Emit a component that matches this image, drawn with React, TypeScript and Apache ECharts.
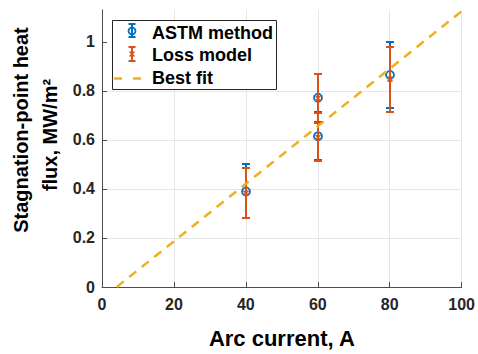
import React, { useEffect, useRef } from "react";
import * as echarts from "echarts";

// Arc current (A), stagnation-point heat flux (MW/m²) and half-width of the error bar
const astmX = [40, 60, 60, 80];
const astmY = [0.39, 0.772, 0.615, 0.865];
const astmErr = [0.11, 0.098, 0.097, 0.135];

const lossX = [40, 60, 60, 80];
const lossY = [0.383, 0.77, 0.61, 0.848];
const lossErr = [0.103, 0.1, 0.098, 0.133];

// End points of the linear best fit
const fitX = [4.1, 100];
const fitY = [0, 1.125];

const xTicks = [0, 20, 40, 60, 80, 100];
const yTicks = [0, 0.2, 0.4, 0.6, 0.8, 1];

const BLUE = "#0072BD";
const ORANGE = "#D95319";
const YELLOW = "#EDB120";
const AXIS = "#262626";
const FONT = "'Liberation Sans', Arial, Helvetica, sans-serif";

function errorBarSeries(name: string, xs: number[], ys: number[], es: number[], color: string, marker: "circle" | "cross", z: number) {
  return {
    name,
    type: "custom",
    clip: false,
    z,
    encode: { x: 0, y: 1 },
    data: xs.map((x, i) => [x, ys[i], es[i]]),
    renderItem: (_params: any, api: any) => {
      const x = api.value(0);
      const y = api.value(1);
      const e = api.value(2);
      const top = api.coord([x, y + e]);
      const bot = api.coord([x, y - e]);
      const mid = api.coord([x, y]);
      // snap to whole pixels so overlapping bars cover each other cleanly
      const cx = Math.round(mid[0]);
      const ty = Math.round(top[1]);
      const by = Math.round(bot[1]);
      const cap = 4;
      const lineStyle = { stroke: color, lineWidth: 2 };
      const children: any[] = [
        { type: "line", z2: z, shape: { x1: cx, y1: ty, x2: cx, y2: by }, style: lineStyle },
        { type: "line", z2: z, shape: { x1: cx - cap, y1: ty, x2: cx + cap, y2: ty }, style: lineStyle },
        { type: "line", z2: z, shape: { x1: cx - cap, y1: by, x2: cx + cap, y2: by }, style: lineStyle },
      ];
      if (marker === "circle") {
        children.push({
          type: "circle",
          z2: z,
          shape: { cx, cy: mid[1], r: 4 },
          style: { fill: "none", stroke: color, lineWidth: 1.8 },
        });
      } else {
        const m = 2.5;
        children.push(
          { type: "line", z2: z, shape: { x1: cx - m, y1: mid[1] - m, x2: cx + m, y2: mid[1] + m }, style: { stroke: color, lineWidth: 1.5 } },
          { type: "line", z2: z, shape: { x1: cx - m, y1: mid[1] + m, x2: cx + m, y2: mid[1] - m }, style: { stroke: color, lineWidth: 1.5 } }
        );
      }
      return { type: "group", children };
    },
  };
}

export default function App() {
  const ref = useRef<HTMLDivElement>(null);

  useEffect(() => {
    if (!ref.current) return;
    const chart = echarts.init(ref.current, undefined, { renderer: "svg" });

    const legendX = 132;
    const legend = [
      { type: "rect", shape: { x: 112.5, y: 20.5, width: 164, height: 69 }, style: { fill: "#fff", stroke: AXIS, lineWidth: 1 }, z: 50 },
      // ASTM method icon
      { type: "line", shape: { x1: legendX, y1: 24, x2: legendX, y2: 37 }, style: { stroke: BLUE, lineWidth: 2 }, z: 51 },
      { type: "line", shape: { x1: legendX - 3.5, y1: 24, x2: legendX + 3.5, y2: 24 }, style: { stroke: BLUE, lineWidth: 2 }, z: 51 },
      { type: "line", shape: { x1: legendX - 3.5, y1: 37, x2: legendX + 3.5, y2: 37 }, style: { stroke: BLUE, lineWidth: 2 }, z: 51 },
      { type: "circle", shape: { cx: legendX, cy: 31, r: 3.5 }, style: { fill: "none", stroke: BLUE, lineWidth: 1.8 }, z: 51 },
      { type: "text", x: 152, y: 33, style: { text: "ASTM method", font: `bold 18px ${FONT}`, fill: "#000", textVerticalAlign: "middle" }, z: 51 },
      // Loss model icon
      { type: "line", shape: { x1: legendX, y1: 47, x2: legendX, y2: 61 }, style: { stroke: ORANGE, lineWidth: 2 }, z: 51 },
      { type: "line", shape: { x1: legendX - 3.5, y1: 47, x2: legendX + 3.5, y2: 47 }, style: { stroke: ORANGE, lineWidth: 2 }, z: 51 },
      { type: "line", shape: { x1: legendX - 3.5, y1: 61, x2: legendX + 3.5, y2: 61 }, style: { stroke: ORANGE, lineWidth: 2 }, z: 51 },
      { type: "line", shape: { x1: legendX - 2.5, y1: 51.5, x2: legendX + 2.5, y2: 56.5 }, style: { stroke: ORANGE, lineWidth: 1.5 }, z: 51 },
      { type: "line", shape: { x1: legendX - 2.5, y1: 56.5, x2: legendX + 2.5, y2: 51.5 }, style: { stroke: ORANGE, lineWidth: 1.5 }, z: 51 },
      { type: "text", x: 152, y: 55, style: { text: "Loss model", font: `bold 18px ${FONT}`, fill: "#000", textVerticalAlign: "middle" }, z: 51 },
      // Best fit icon
      { type: "line", shape: { x1: 114, y1: 78.5, x2: 141, y2: 78.5 }, style: { stroke: YELLOW, lineWidth: 2.5, lineDash: [8, 11] }, z: 51 },
      { type: "text", x: 152, y: 78, style: { text: "Best fit", font: `bold 18px ${FONT}`, fill: "#000", textVerticalAlign: "middle" }, z: 51 },
      // y-axis title, two lines
      { type: "text", x: 21, y: 130, rotation: Math.PI / 2, style: { text: "Stagnation-point heat", font: `bold 20px ${FONT}`, fill: "#000", textAlign: "center", textVerticalAlign: "middle" } },
      { type: "text", x: 50, y: 135, rotation: Math.PI / 2, style: { text: "flux, MW/m²", font: `bold 20px ${FONT}`, fill: "#000", textAlign: "center", textVerticalAlign: "middle" } },
    ];

    chart.setOption({
      animation: false,
      backgroundColor: "#fff",
      grid: { left: 102, right: 15, top: 10, bottom: 62, containLabel: false },
      xAxis: {
        type: "value",
        min: 0,
        max: 100,
        interval: 20,
        name: "Arc current, A",
        nameLocation: "middle",
        nameGap: 40,
        nameTextStyle: { fontFamily: FONT, fontWeight: "bold", fontSize: 22, color: "#000" },
        axisLine: { show: true, onZero: false, lineStyle: { color: "#4d4d4d", width: 1 } },
        axisTick: { show: true, inside: true, length: 5, lineStyle: { color: "#4d4d4d" }, customValues: xTicks },
        axisLabel: { margin: 9, fontFamily: FONT, fontWeight: "bold", fontSize: 16, color: AXIS, customValues: xTicks },
        splitLine: { show: true, lineStyle: { color: "#e6e6e6", width: 1 } },
      },
      yAxis: {
        type: "value",
        min: 0,
        max: 1.13,
        interval: 0.2,
        axisLine: { show: true, onZero: false, lineStyle: { color: "#4d4d4d", width: 1 } },
        axisTick: { show: true, inside: true, length: 5, lineStyle: { color: "#4d4d4d" }, customValues: yTicks },
        axisLabel: {
          margin: 7,
          fontFamily: FONT,
          fontWeight: "bold",
          fontSize: 16,
          color: AXIS,
          customValues: yTicks,
          formatter: (v: number) => String(Math.round(v * 10) / 10),
        },
        splitLine: { show: true, showMaxLine: false, lineStyle: { color: "#e6e6e6", width: 1 } },
      },
      series: [
        errorBarSeries("ASTM method", astmX, astmY, astmErr, BLUE, "circle", 2),
        errorBarSeries("Loss model", lossX, lossY, lossErr, ORANGE, "cross", 4),
        {
          name: "Best fit",
          type: "line",
          data: fitX.map((x, i) => [x, fitY[i]]),
          symbol: "none",
          clip: false,
          lineStyle: { color: YELLOW, width: 2.5, type: [9, 7] },
          z: 6,
        },
      ],
      graphic: legend,
    });

    return () => chart.dispose();
  }, []);

  return (
    <div
      ref={ref}
      style={{ position: "fixed", left: 0, top: 0, width: 478, height: 354, background: "#fff" }}
    />
  );
}
